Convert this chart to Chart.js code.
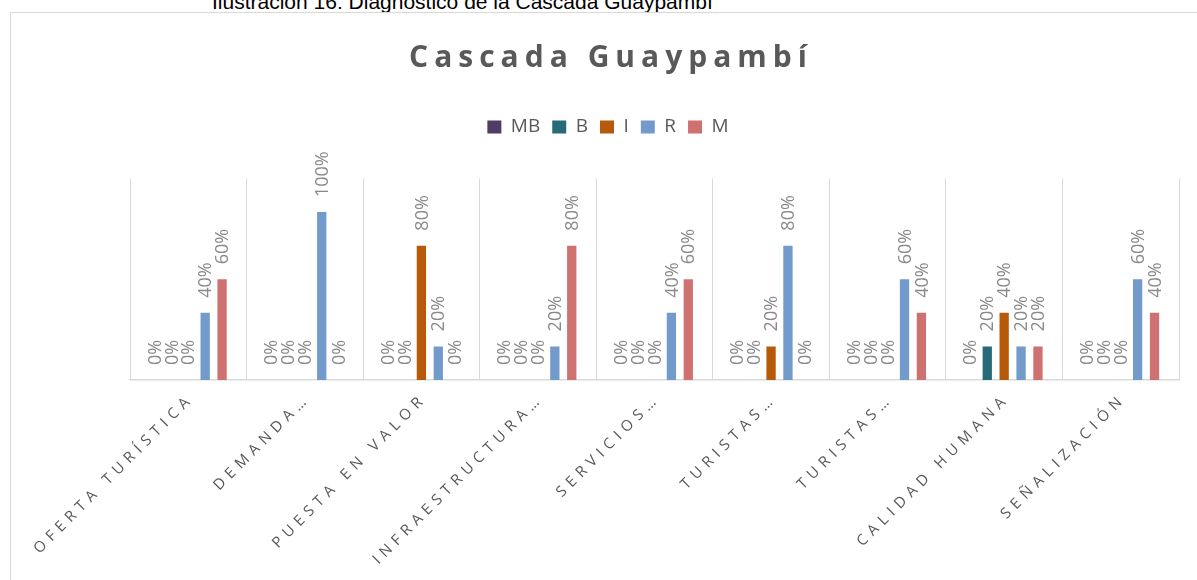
<!DOCTYPE html>
<html>
<head>
<meta charset="utf-8">
<script src="https://cdn.jsdelivr.net/npm/chart.js@4.4.1/dist/chart.umd.min.js"></script>
<style>
  html, body { margin: 0; padding: 0; overflow: hidden; background: #ffffff; width: 1197px; height: 580px; }
  #caption { position: absolute; left: 212px; top: -9px; font-family: "Liberation Sans", Arial, sans-serif; font-size: 21px; line-height: 21px; color: #000; white-space: nowrap; }
  #box { position: absolute; left: 10px; top: 12px; width: 1196px; height: 580px; border: 1px solid #d9d9d9; background: #fff; }
  #c { position: absolute; left: 0; top: 0; }
</style>
</head>
<body>
<div id="caption">Ilustración 16: Diagnóstico de la Cascada Guaypambí</div>
<div id="box"><canvas id="c" width="1194" height="570"></canvas></div>
<script>
const chartTitle = 'Cascada Guaypambí';
const categories = ['OFERTA TURÍSTICA', 'DEMANDA…', 'PUESTA EN VALOR', 'INFRAESTRUCTURA…', 'SERVICIOS…', 'TURISTAS…', 'TURISTAS…', 'CALIDAD HUMANA', 'SEÑALIZACIÓN'];
const seriesNames = ['MB', 'B', 'I', 'R', 'M'];
const valuesMB = [0, 0, 0, 0, 0, 0, 0, 0, 0];
const valuesB  = [0, 0, 0, 0, 0, 0, 0, 20, 0];
const valuesI  = [0, 0, 80, 0, 0, 20, 0, 40, 0];
const valuesR  = [40, 100, 20, 20, 40, 80, 60, 20, 60];
const valuesM  = [60, 0, 0, 80, 60, 0, 40, 20, 40];
const seriesColors = ['#4f3b63', '#276b78', '#b65a0a', '#729aca', '#d07171'];

const allValues = [valuesMB, valuesB, valuesI, valuesR, valuesM];

const dataLabelPlugin = {
  id: 'rotatedDataLabels',
  afterDatasetsDraw(chart) {
    const ctx = chart.ctx;
    ctx.save();
    ctx.font = '18px "Open Sans"';
    ctx.fillStyle = '#8a8a8a';
    ctx.textAlign = 'left';
    ctx.textBaseline = 'middle';
    chart.data.datasets.forEach((ds, i) => {
      const meta = chart.getDatasetMeta(i);
      meta.data.forEach((bar, j) => {
        const v = ds.data[j];
        ctx.save();
        ctx.translate(bar.x, bar.y - 15);
        ctx.rotate(-Math.PI / 2);
        ctx.fillText(v + '%', 0, 1);
        ctx.restore();
      });
    });
    ctx.restore();
  }
};

const ctx = document.getElementById('c').getContext('2d');
const chart = new Chart(ctx, {
  type: 'bar',
  data: {
    labels: categories,
    datasets: seriesNames.map((name, i) => ({
      label: name,
      data: allValues[i],
      backgroundColor: seriesColors[i],
      borderWidth: 0,
      categoryPercentage: 0.725,
      barPercentage: 0.55
    }))
  },
  options: {
    responsive: false,
    animation: false,
    devicePixelRatio: 1,
    layout: { padding: { left: 0, right: 0, top: 0, bottom: 0 } },
    plugins: {
      title: {
        display: true,
        text: chartTitle,
        color: '#595959',
        font: { family: '"Open Sans"', size: 30, weight: 'bold' },
        padding: { top: 27.5, bottom: 29 }
      },
      legend: {
        display: true,
        position: 'top',
        labels: {
          boxWidth: 14,
          boxHeight: 13,
          padding: 12,
          color: '#595959',
          font: { family: '"Open Sans"', size: 19 }
        }
      },
      subtitle: {
        display: true,
        text: '',
        position: 'top',
        weight: 500,
        font: { size: 10 },
        padding: { top: 0, bottom: 20 }
      },
      tooltip: { enabled: false }
    },
    scales: {
      x: {
        position: 'bottom',
        grid: { display: true, offset: true, color: '#d9d9d9', lineWidth: 1, drawTicks: false },
        border: { display: true, color: '#d9d9d9', width: 1.5 },
        ticks: {
          autoSkip: false,
          minRotation: 45,
          maxRotation: 45,
          padding: 10,
          labelOffset: 3,
          color: '#595959',
          font: { family: '"Open Sans"', size: 15 }
        },
        afterFit: (s) => { s.height = 203; }
      },
      y: {
        position: 'left',
        min: 0,
        max: 120,
        display: true,
        grid: { display: false },
        border: { display: false },
        ticks: { display: false },
        afterFit: (s) => { s.width = 119; }
      },
      y2: {
        position: 'right',
        display: true,
        grid: { display: false },
        border: { display: false },
        ticks: { display: false },
        afterFit: (s) => { s.width = 26; }
      }
    }
  },
  plugins: [dataLabelPlugin]
});

// letter spacing for the axis labels and the title
const xs = chart.scales.x;
const origDrawLabels = xs.drawLabels;
xs.drawLabels = function (area) {
  const c = this.ctx;
  const prev = c.letterSpacing;
  c.letterSpacing = '5.5px';
  origDrawLabels.call(this, area);
  c.letterSpacing = prev || '0px';
};
if (chart.titleBlock) {
  const tb = chart.titleBlock;
  const origTitleDraw = tb.draw;
  tb.draw = function () {
    const c = this.ctx;
    const prev = c.letterSpacing;
    c.letterSpacing = '6px';
    c.save();
    c.translate(3, 0);
    origTitleDraw.call(this);
    c.restore();
    c.letterSpacing = prev || '0px';
  };
}
chart.draw();
</script>
</body>
</html>
